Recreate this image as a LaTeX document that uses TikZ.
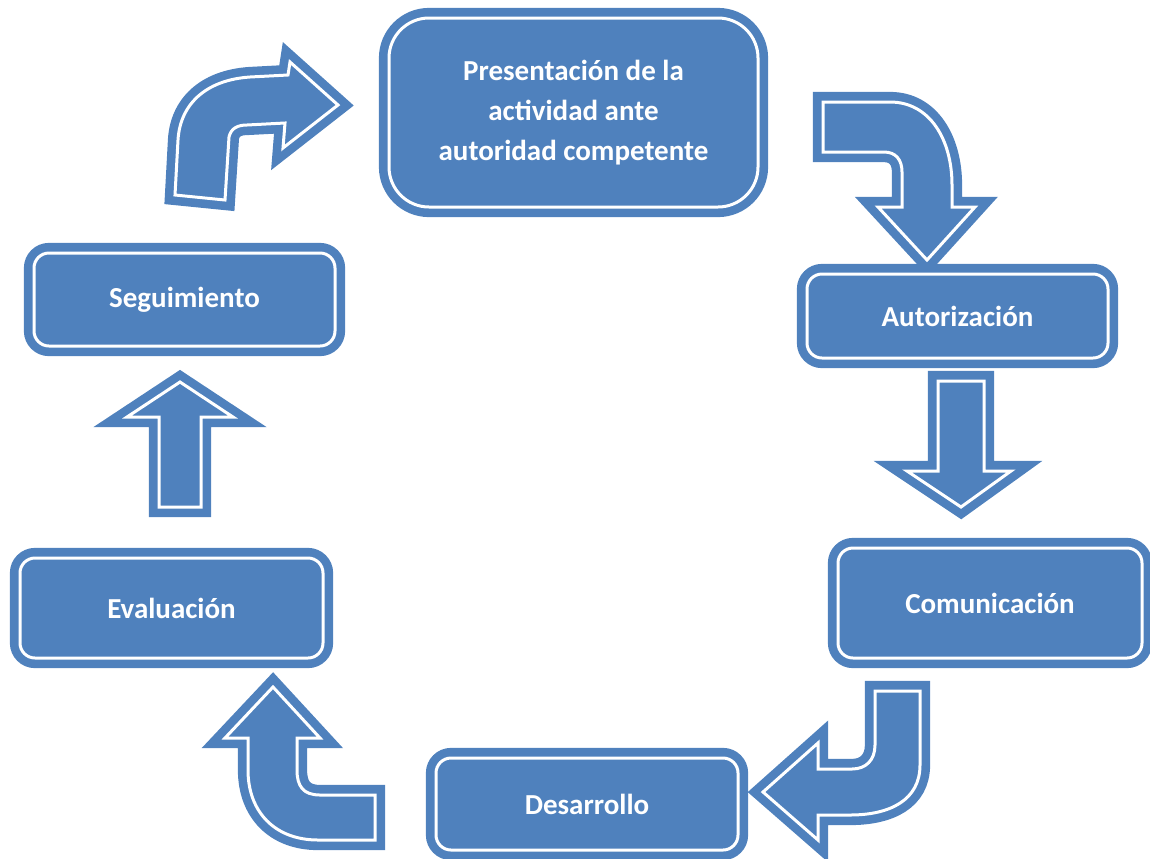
\documentclass[tikz,border=0pt]{standalone}
\usepackage{fontspec}
\setmainfont{Carlito}
\usetikzlibrary{backgrounds}
\definecolor{FlowBlue}{HTML}{4F81BD}

\begin{document}
\begin{tikzpicture}[x=0.5pt, y=-0.5pt,
  ring/.style={draw=FlowBlue, fill=FlowBlue, line width=4.3pt,
               double=white, double distance=1.5pt},
  box/.style={ring, rounded corners=7.5pt, inner sep=0pt, outer sep=0pt,
              align=center, text=white,
              font=\fontsize{14.5}{20}\selectfont\bfseries},
  flow/.style={ring, line join=miter}]
  \useasboundingbox (0,0) rectangle (1150,858);

  % stages of the cycle
  \node[box, minimum width=184.5pt, minimum height=94.5pt, rounded corners=20pt]
    (pres) at (573.5,112.5) {Presentación de la\\actividad ante\\autoridad competente};
  \node[box, minimum width=150.5pt, minimum height=42pt] (auto) at (957.5,316) {Autorización};
  \node[box, minimum width=152pt, minimum height=55pt] (comu) at (990,603) {Comunicación};
  \node[box, minimum width=151pt, minimum height=46pt] (desa) at (587,804) {Desarrollo};
  \node[box, minimum width=151.5pt, minimum height=50pt] (eval) at (171.5,608) {Evaluación};
  \node[box, minimum width=150.5pt, minimum height=46.5pt] (segu) at (184.5,299.5) {Seguimiento};

  % block arrows between the stages
  \begin{scope}[on background layer]
    % Seguimiento -> Presentacion
    \draw[flow] (175,195) -- (225,200) -- (229,137)
      .. controls (231,128) and (238,125) .. (247,125) -- (285,123) -- (283,148)
      -- (338,105) -- (290,62) -- (288,75) -- (250,77)
      .. controls (205,80) and (180,105) .. (178,140) -- cycle;
    % Presentacion -> Autorizacion
    \draw[flow] (823,102) -- (890,102)
      .. controls (930,102) and (952,140) .. (952,185) -- (952,207) -- (975,207)
      -- (927,260) -- (878,207) -- (902,207) -- (902,172)
      .. controls (902,160) and (896,152) .. (884,152) -- (823,152) -- cycle;
    % Autorizacion -> Comunicacion
    \draw[flow] (938,381) -- (984,381) -- (984,471) -- (1011,471) -- (961,507)
      -- (907,471) -- (938,471) -- cycle;
    % Comunicacion -> Desarrollo
    \draw[flow] (875,691) -- (920,691) -- (920,765)
      .. controls (920,800) and (890,815) .. (850,815) -- (818,815) -- (818,840)
      -- (763,792) -- (818,743) -- (818,769) -- (852,769)
      .. controls (866,769) and (875,760) .. (875,745) -- cycle;
    % Desarrollo -> Evaluacion
    \draw[flow] (273,687) -- (320,738) -- (297,738) -- (297,770)
      .. controls (297,786) and (303,795) .. (320,795) -- (375,795) -- (375,840)
      -- (318,840) .. controls (275,840) and (248,812) .. (248,770) -- (248,738)
      -- (225,738) -- cycle;
    % Evaluacion -> Seguimiento
    \draw[flow] (180,382) -- (233,417) -- (201,417) -- (201,507) -- (159,507)
      -- (159,417) -- (127,417) -- cycle;
  \end{scope}
\end{tikzpicture}
\end{document}
